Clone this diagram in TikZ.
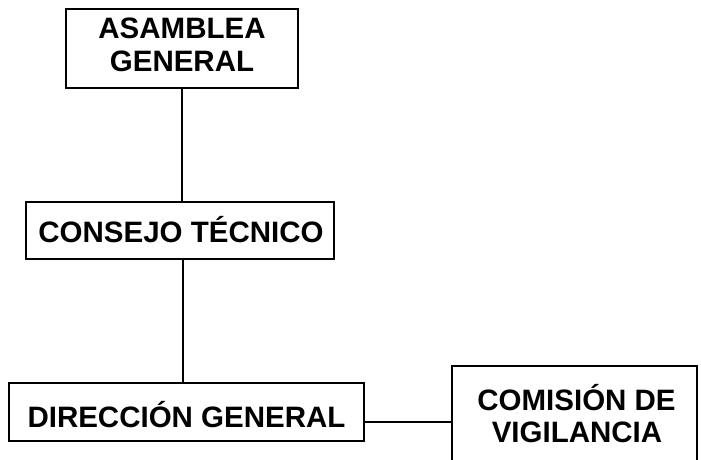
\documentclass[tikz,border=0pt]{standalone}
\usepackage{fontspec}
\setmainfont{Liberation Sans}
\begin{document}
\begin{tikzpicture}[x=1pt,y=-1pt]
\tikzset{
  orgbox/.style={draw=black, line width=1.6pt, rectangle, inner sep=0pt},
  lbl/.style={font=\bfseries\fontsize{29.5}{33}\selectfont, anchor=base, inner sep=0pt},
  link/.style={draw=black, line width=1.6pt}
}
\fill[white] (0,0) rectangle (701,459);
\useasboundingbox (0,0) rectangle (701,459);
\begin{scope}
\clip (0,0) rectangle (701,459);
% boxes
\node[orgbox, minimum width=232pt, minimum height=79pt] (asam) at (182,48.5) {};
\node[orgbox, minimum width=308pt, minimum height=57pt] (cons) at (180,230.5) {};
\node[orgbox, minimum width=355pt, minimum height=58pt] (dir) at (186.5,412) {};
\node[orgbox, minimum width=245pt, minimum height=109pt] (com) at (574.5,420.5) {};
% labels
\node[lbl] (asamA) at (182,38) {ASAMBLEA};
\node[lbl] (asamB) at (182,71) {GENERAL};
\node[lbl] (consT) at (181,242) {CONSEJO TÉCNICO};
\node[lbl] (dirT) at (186.5,427) {DIRECCIÓN GENERAL};
\node[lbl] (comA) at (576.5,410) {COMISIÓN DE};
\node[lbl] (comB) at (577,442) {VIGILANCIA};
% connectors
\coordinate (j1) at (182,0);
\coordinate (j2) at (183,0);
\coordinate (j3) at (0,422);
\draw[link] (asam.south -| j1) -- (cons.north -| j1);
\draw[link] (cons.south -| j2) -- (dir.north -| j2);
\draw[link] (dir.east |- j3) -- (com.west |- j3);
\end{scope}
\end{tikzpicture}
\end{document}
